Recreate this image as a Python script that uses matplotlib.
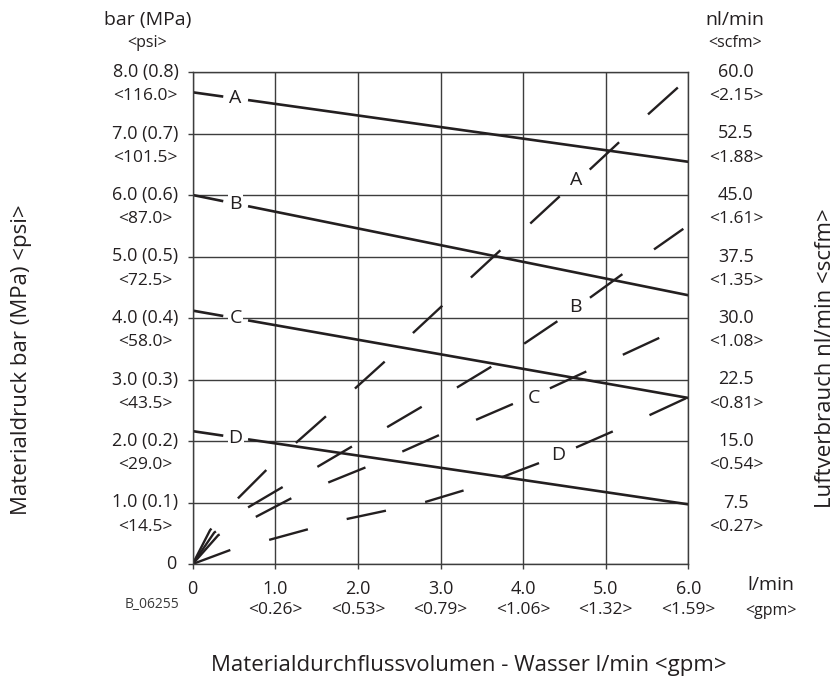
import numpy as np
import matplotlib
matplotlib.use("Agg")
import matplotlib.pyplot as plt
from matplotlib import transforms

plt.rcParams['font.family'] = ['Open Sans', 'DejaVu Sans']
plt.rcParams['lines.scale_dashes'] = False

INK = '#231f20'
GRID = '#3d3d3d'

# x-Achse: Materialdurchfluss l/min <gpm>
flow_ticks = [0, 1, 2, 3, 4, 5, 6]
flow_lbl = ['0', '1.0', '2.0', '3.0', '4.0', '5.0', '6.0']
flow_gpm = ['', '<0.26>', '<0.53>', '<0.79>', '<1.06>', '<1.32>', '<1.59>']

# linke Achse: Materialdruck bar (MPa) <psi>
press_ticks = [0, 1, 2, 3, 4, 5, 6, 7, 8]
press_lbl = ['0', '1.0 (0.1)', '2.0 (0.2)', '3.0 (0.3)', '4.0 (0.4)',
             '5.0 (0.5)', '6.0 (0.6)', '7.0 (0.7)', '8.0 (0.8)']
press_psi = ['', '<14.5>', '<29.0>', '<43.5>', '<58.0>',
             '<72.5>', '<87.0>', '<101.5>', '<116.0>']

# rechte Achse: Luftverbrauch nl/min <scfm>
air_lbl = ['', '7.5', '15.0', '22.5', '30.0', '37.5', '45.0', '52.5', '60.0']
air_scfm = ['', '<0.27>', '<0.54>', '<0.81>', '<1.08>',
            '<1.35>', '<1.61>', '<1.88>', '<2.15>']

curve_names = ['A', 'B', 'C', 'D']

# Materialdruck (durchgezogen), bei 0 und 6 l/min
press_x = [0, 6]
press_A = [7.67, 6.54]
press_B = [6.00, 4.37]
press_C = [4.12, 2.70]
press_D = [2.16, 0.97]
press_lbl_x = 0.52

air_A_x = [0, 0.21, 0.55, 0.90, 1.25, 1.62, 1.97, 2.34, 2.67, 3.03, 3.37, 3.74,
           4.09, 4.46, 4.82, 5.18, 5.52, 5.90]
air_A_y = [0, 0.55, 1.07, 1.54, 1.97, 2.41, 2.86, 3.31, 3.76, 4.21, 4.66, 5.12,
           5.54, 6.00, 6.43, 6.88, 7.32, 7.78]
air_B_x = [0, 0.26, 0.67, 1.10, 1.51, 1.94, 2.36, 2.79, 3.20, 3.63, 4.01, 4.44,
           4.82, 5.23, 5.59, 5.94]
air_B_y = [0, 0.51, 0.92, 1.26, 1.58, 1.92, 2.23, 2.57, 2.87, 3.22, 3.58, 3.97,
           4.34, 4.74, 5.12, 5.45]
air_C_x = [0, 0.31, 0.77, 1.21, 1.65, 2.11, 2.54, 2.99, 3.44, 3.89, 4.33, 4.78,
           5.22, 5.67]
air_C_y = [0, 0.47, 0.77, 1.08, 1.33, 1.58, 1.83, 2.10, 2.35, 2.61, 2.86, 3.14,
           3.41, 3.69]
air_D_x = [0, 0.46, 0.92, 1.41, 1.86, 2.35, 2.82, 3.29, 3.76, 4.21, 4.65, 5.11,
           5.53, 5.98]
air_D_y = [0, 0.23, 0.39, 0.57, 0.73, 0.87, 1.01, 1.20, 1.42, 1.65, 1.90, 2.17,
           2.42, 2.70]
air_lbl_x = [4.64, 4.63, 4.13, 4.42]
air_lbl_y = [6.24, 4.18, 2.70, 1.77]

W, H = 838, 677
fig = plt.figure(figsize=(W / 100, H / 100), dpi=100)

def fx(px):
    return px / W

def fy(py):
    return 1 - py / H

ax = fig.add_axes([fx(192.7), fy(564), (688.3 - 192.7) / W, (564 - 72) / H])
ax.set_xlim(0, 6)
ax.set_ylim(0, 8)
ax.set_xticks(flow_ticks)
ax.set_yticks(press_ticks)
ax.set_xticklabels([])
ax.set_yticklabels([])
ax.tick_params(direction='out', length=3.6, width=1.0, color=GRID)
ax.grid(True, color=GRID, lw=1.0)
ax.set_axisbelow(True)
for s in ax.spines.values():
    s.set_color(GRID)
    s.set_linewidth(1.0)

lbl_box = dict(boxstyle='square,pad=0.05', fc='white', ec='none')

# durchgezogene Linien mit Luecke fuer die Beschriftung
gap = 0.15
for name, py in zip(curve_names, [press_A, press_B, press_C, press_D]):
    for xs in ([press_x[0], press_lbl_x - gap], [press_lbl_x + gap, press_x[1]]):
        ax.plot(xs, np.interp(xs, press_x, py), color=INK, lw=1.9,
                solid_capstyle='butt')
    ax.text(press_lbl_x, np.interp(press_lbl_x, press_x, py), name, fontsize=14,
            color=INK, ha='center', va='center', bbox=lbl_box, zorder=4)

# gestrichelte Linien
air_x = [air_A_x, air_B_x, air_C_x, air_D_x]
air_y = [air_A_y, air_B_y, air_C_y, air_D_y]
for name, xs, ys, lx, ly in zip(curve_names, air_x, air_y, air_lbl_x, air_lbl_y):
    ax.plot(xs, ys, color=INK, lw=1.7, dashes=(28.9, 28.9), dash_capstyle='butt')
    ax.text(lx, ly, name, fontsize=14, color=INK, ha='center', va='center',
            bbox=lbl_box, zorder=4)

def off(tr, dx, dy):
    return transforms.offset_copy(tr, fig=fig, x=dx, y=dy, units='points')

ytr = ax.get_yaxis_transform()
xtr = ax.get_xaxis_transform()

for y, main, sub, rmain, rsub in zip(press_ticks, press_lbl, press_psi, air_lbl, air_scfm):
    if sub:
        ax.text(0, y, main, transform=off(ytr, -34, 0), fontsize=13, color=INK,
                ha='center', va='center')
        ax.text(0, y, sub, transform=off(ytr, -34, -17.6), fontsize=12.5, color=INK,
                ha='center', va='center')
    else:
        ax.text(0, y, main, transform=off(ytr, -12, 0), fontsize=13, color=INK,
                ha='right', va='center')
    ax.text(1, y, rmain, transform=off(ytr, 34.3, 0), fontsize=13, color=INK,
            ha='center', va='center')
    ax.text(1, y, rsub, transform=off(ytr, 34.3, -17.6), fontsize=12.5, color=INK,
            ha='center', va='center')

for x, main, sub in zip(flow_ticks, flow_lbl, flow_gpm):
    ax.text(x, 0, main, transform=off(xtr, 0, -18), fontsize=13, color=INK,
            ha='center', va='center')
    ax.text(x, 0, sub, transform=off(xtr, 0, -33.1), fontsize=12.5, color=INK,
            ha='center', va='center')
ax.text(7, 0, 'l/min', transform=off(xtr, 0, -15), fontsize=14, color=INK,
        ha='center', va='center')
ax.text(7, 0, '<gpm>', transform=off(xtr, 0, -34), fontsize=11.5, color=INK,
        ha='center', va='center')

fig.text(fx(148), fy(20), 'bar (MPa)', fontsize=14, color=INK, ha='center', va='center')
fig.text(fx(147), fy(43), '<psi>', fontsize=11.5, color=INK, ha='center', va='center')
fig.text(fx(735), fy(20), 'nl/min', fontsize=14, color=INK, ha='center', va='center')
fig.text(fx(735), fy(43), '<scfm>', fontsize=11.5, color=INK, ha='center', va='center')
fig.text(fx(152), fy(605), 'B_06255', fontsize=10, color='#3a3a3a', ha='center', va='center')

fig.text(fx(469), fy(665), 'Materialdurchflussvolumen - Wasser l/min <gpm>',
         fontsize=16, color=INK, ha='center', va='center')
fig.text(fx(21.7), fy(360), 'Materialdruck bar (MPa) <psi>', fontsize=16, color=INK,
         ha='center', va='center', rotation=90)
fig.text(fx(825), fy(358), 'Luftverbrauch nl/min <scfm>', fontsize=16, color=INK,
         ha='center', va='center', rotation=90)

fig.savefig('out.png', dpi=100)
